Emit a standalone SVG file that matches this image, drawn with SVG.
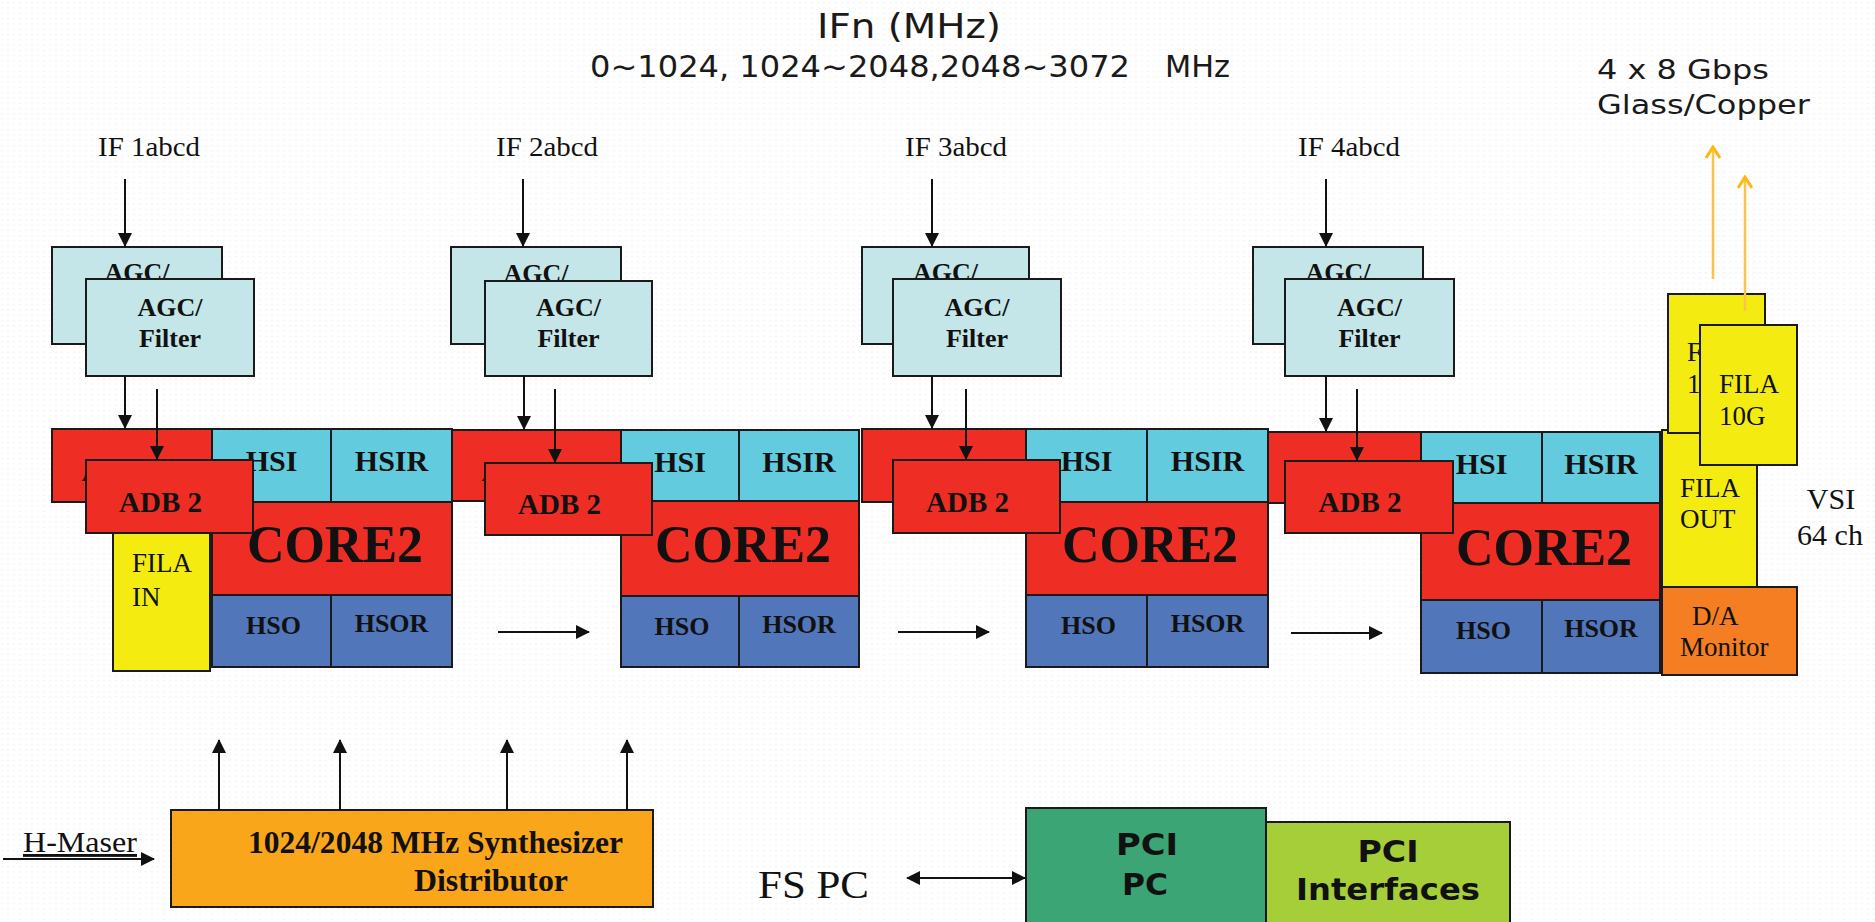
<svg xmlns="http://www.w3.org/2000/svg" width="1875" height="922" viewBox="0 0 1875 922">
<style>
.b{stroke:#1a1a1a;stroke-width:2}
.agc{fill:#C5E6E8}
.red{fill:#EE2E24}
.hsi{fill:#63CBDE}
.hso{fill:#5276BA}
.yel{fill:#F4EC11}
.da{fill:#F47E21}
.syn{fill:#FAA61A}
.pc{fill:#3CA576}
.pci{fill:#A6CE39}
.serif{font-family:"Liberation Serif","Times New Roman",serif;fill:#111}
.sb{font-family:"Liberation Serif","Times New Roman",serif;font-weight:bold;fill:#111}
.sans{font-family:"DejaVu Sans",Verdana,sans-serif;fill:#1a1a1a}
.sansb{font-family:"DejaVu Sans",Verdana,sans-serif;font-weight:bold;fill:#111}
.t26{font-size:26px}
.mid{text-anchor:middle}
.ln{stroke:#111;stroke-width:2;fill:none}
.or{stroke:#FCC34A;stroke-width:2.5;fill:none}
</style>
<defs>
<pattern id="dots" width="6" height="5.3" patternUnits="userSpaceOnUse">
<rect width="6" height="5.3" fill="#ffffff"/>
<path d="M1,3 l1,-1 l1,1" stroke="#E8E8E8" stroke-width="0.8" fill="none"/>
</pattern>
<marker id="ah" viewBox="0 0 14 14" refX="13" refY="7" markerWidth="14" markerHeight="14" orient="auto-start-reverse" markerUnits="userSpaceOnUse">
<path d="M0,0 L14,7 L0,14 z" fill="#111"/>
</marker>
<marker id="oh" viewBox="0 0 14 16" refX="12" refY="8" markerWidth="14" markerHeight="16" orient="auto" markerUnits="userSpaceOnUse">
<path d="M1,1 L12,8 L1,15" stroke="#FDB913" stroke-width="3" fill="none"/>
</marker>
</defs>
<rect width="1875" height="922" fill="url(#dots)"/>

<g id="title">
<text class="sans" x="817" y="38" font-size="34" textLength="184" lengthAdjust="spacingAndGlyphs">IFn (MHz)</text>
<text class="sans" x="590" y="77" font-size="31" textLength="540" lengthAdjust="spacingAndGlyphs">0~1024, 1024~2048,2048~3072</text>
<text class="sans" x="1165" y="77" font-size="31" textLength="65" lengthAdjust="spacingAndGlyphs">MHz</text>
</g>
<g id="gbps-label">
<text class="sans" x="1597" y="79" font-size="26" textLength="172" lengthAdjust="spacingAndGlyphs">4 x 8 Gbps</text>
<text class="sans" x="1597" y="114" font-size="26" textLength="213" lengthAdjust="spacingAndGlyphs">Glass/Copper</text>
</g>
<g id="if-labels">
<text class="serif" x="98" y="156" font-size="27" textLength="102" lengthAdjust="spacingAndGlyphs">IF 1abcd</text>
<text class="serif" x="496" y="156" font-size="27" textLength="102" lengthAdjust="spacingAndGlyphs">IF 2abcd</text>
<text class="serif" x="905" y="156" font-size="27" textLength="102" lengthAdjust="spacingAndGlyphs">IF 3abcd</text>
<text class="serif" x="1298" y="156" font-size="27" textLength="102" lengthAdjust="spacingAndGlyphs">IF 4abcd</text>
</g>

<!-- Column 1 -->
<g id="agc1-back"><rect class="agc b" x="52" y="247" width="170" height="97"/><text class="sb t26 mid" x="137" y="281">AGC/</text></g>
<g id="agc1"><rect class="agc b" x="86" y="279" width="168" height="97"/><text class="sb t26 mid" x="170" y="316">AGC/</text><text class="sb t26 mid" x="170" y="347">Filter</text></g>
<g id="adb1-back"><rect class="red b" x="52" y="429" width="160" height="73"/><text class="sb mid" x="123" y="481" font-size="29">ADB 2</text></g>
<g id="core1">
<rect class="hsi b" x="212" y="429" width="119" height="73"/><rect class="hsi b" x="331" y="429" width="121" height="73"/>
<rect class="red b" x="212" y="502" width="240" height="93"/>
<rect class="hso b" x="212" y="595" width="119" height="72"/><rect class="hso b" x="331" y="595" width="121" height="72"/>
<text class="sb mid" x="271.5" y="471" font-size="30">HSI</text><text class="sb mid" x="391.5" y="471" font-size="30">HSIR</text>
<text class="sb mid" x="335" y="562" font-size="52">CORE2</text>
<text class="sb mid" x="273.5" y="634" font-size="26">HSO</text><text class="sb mid" x="391.5" y="632" font-size="26">HSOR</text>
</g>
<g id="fila-in"><rect class="yel b" x="113" y="520" width="97" height="151"/><text class="serif" x="132" y="572" font-size="27">FILA</text><text class="serif" x="132" y="606" font-size="27">IN</text></g>
<g id="adb1"><rect class="red b" x="86" y="460" width="167" height="73"/><text class="sb mid" x="160.5" y="512" font-size="29">ADB 2</text></g>

<!-- Column 2 -->
<g id="agc2-back"><rect class="agc b" x="451" y="247" width="170" height="97"/><text class="sb t26 mid" x="536" y="282">AGC/</text></g>
<g id="agc2"><rect class="agc b" x="485" y="281" width="167" height="95"/><text class="sb t26 mid" x="568.5" y="316">AGC/</text><text class="sb t26 mid" x="568.5" y="347">Filter</text></g>
<g id="adb2-back"><rect class="red b" x="452" y="430" width="169" height="71"/><text class="sb mid" x="523" y="481" font-size="29">ADB 2</text></g>
<g id="core2">
<rect class="hsi b" x="621" y="430" width="118" height="71"/><rect class="hsi b" x="739" y="430" width="120" height="71"/>
<rect class="red b" x="621" y="501" width="238" height="95"/>
<rect class="hso b" x="621" y="596" width="118" height="71"/><rect class="hso b" x="739" y="596" width="120" height="71"/>
<text class="sb mid" x="680" y="472" font-size="30">HSI</text><text class="sb mid" x="799" y="472" font-size="30">HSIR</text>
<text class="sb mid" x="743" y="562" font-size="52">CORE2</text>
<text class="sb mid" x="682" y="635" font-size="26">HSO</text><text class="sb mid" x="799" y="633" font-size="26">HSOR</text>
</g>
<g id="adb2"><rect class="red b" x="485" y="463" width="167" height="72"/><text class="sb mid" x="559.5" y="514" font-size="29">ADB 2</text></g>

<!-- Column 3 -->
<g id="agc3-back"><rect class="agc b" x="862" y="247" width="167" height="97"/><text class="sb t26 mid" x="945.5" y="281">AGC/</text></g>
<g id="agc3"><rect class="agc b" x="893" y="279" width="168" height="97"/><text class="sb t26 mid" x="977" y="316">AGC/</text><text class="sb t26 mid" x="977" y="347">Filter</text></g>
<g id="adb3-back"><rect class="red b" x="862" y="429" width="164" height="73"/><text class="sb mid" x="933" y="481" font-size="29">ADB 2</text></g>
<g id="core3">
<rect class="hsi b" x="1026" y="429" width="121" height="73"/><rect class="hsi b" x="1147" y="429" width="121" height="73"/>
<rect class="red b" x="1026" y="502" width="242" height="93"/>
<rect class="hso b" x="1026" y="595" width="121" height="72"/><rect class="hso b" x="1147" y="595" width="121" height="72"/>
<text class="sb mid" x="1086.5" y="471" font-size="30">HSI</text><text class="sb mid" x="1207.5" y="471" font-size="30">HSIR</text>
<text class="sb mid" x="1150" y="562" font-size="52">CORE2</text>
<text class="sb mid" x="1088.5" y="634" font-size="26">HSO</text><text class="sb mid" x="1207.5" y="632" font-size="26">HSOR</text>
</g>
<g id="adb3"><rect class="red b" x="893" y="460" width="167" height="73"/><text class="sb mid" x="967.5" y="512" font-size="29">ADB 2</text></g>

<!-- Column 4 -->
<g id="agc4-back"><rect class="agc b" x="1253" y="247" width="170" height="97"/><text class="sb t26 mid" x="1338" y="281">AGC/</text></g>
<g id="agc4"><rect class="agc b" x="1285" y="279" width="169" height="97"/><text class="sb t26 mid" x="1369.5" y="316">AGC/</text><text class="sb t26 mid" x="1369.5" y="347">Filter</text></g>
<g id="adb4-back"><rect class="red b" x="1268" y="432" width="153" height="71"/><text class="sb mid" x="1339" y="483" font-size="29">ADB 2</text></g>
<g id="core4">
<rect class="hsi b" x="1421" y="432" width="121" height="71"/><rect class="hsi b" x="1542" y="432" width="118" height="71"/>
<rect class="red b" x="1421" y="503" width="239" height="97"/>
<rect class="hso b" x="1421" y="600" width="121" height="73"/><rect class="hso b" x="1542" y="600" width="118" height="73"/>
<text class="sb mid" x="1481.5" y="474" font-size="30">HSI</text><text class="sb mid" x="1601" y="474" font-size="30">HSIR</text>
<text class="sb mid" x="1544" y="565" font-size="52">CORE2</text>
<text class="sb mid" x="1483.5" y="639" font-size="26">HSO</text><text class="sb mid" x="1601" y="637" font-size="26">HSOR</text>
</g>
<g id="adb4"><rect class="red b" x="1285" y="461" width="168" height="72"/><text class="sb mid" x="1360" y="512" font-size="29">ADB 2</text></g>

<!-- Output side -->
<g id="fila-out"><rect class="yel b" x="1662" y="430" width="95" height="157"/><text class="serif" x="1680" y="497" font-size="27">FILA</text><text class="serif" x="1680" y="528" font-size="27">OUT</text></g>
<g id="da-monitor"><rect class="da b" x="1662" y="587" width="135" height="88"/><text class="serif" x="1692" y="625" font-size="27">D/A</text><text class="serif" x="1680" y="656" font-size="27">Monitor</text></g>
<g id="fila10g-back"><rect class="yel b" x="1668" y="294" width="97" height="139"/><text class="serif" x="1687" y="361" font-size="27">F</text><text class="serif" x="1687" y="393" font-size="27">1</text></g>
<g id="fila10g"><rect class="yel b" x="1700" y="325" width="97" height="140"/><text class="serif" x="1719" y="393" font-size="27">FILA</text><text class="serif" x="1719" y="425" font-size="27">10G</text></g>
<g id="vsi"><text class="serif mid" x="1831" y="509" font-size="30">VSI</text><text class="serif mid" x="1830" y="545" font-size="30">64 ch</text></g>

<!-- Bottom -->
<g id="h-maser"><text class="serif" x="23" y="852" font-size="29" textLength="114" lengthAdjust="spacingAndGlyphs" text-decoration="underline">H-Maser</text></g>
<g id="synth"><rect class="syn b" x="171" y="810" width="482" height="97"/>
<text class="sb" x="248" y="853" font-size="31" textLength="375" lengthAdjust="spacingAndGlyphs">1024/2048 MHz Synthesizer</text>
<text class="sb" x="414" y="891" font-size="31" textLength="154" lengthAdjust="spacingAndGlyphs">Distributor</text></g>
<g id="fs-pc"><text class="serif" x="758" y="898" font-size="40" textLength="111" lengthAdjust="spacingAndGlyphs">FS PC</text></g>
<g id="pci-pc"><rect class="pc b" x="1026" y="808" width="240" height="130"/>
<text class="sansb mid" x="1147" y="855" font-size="30" textLength="62" lengthAdjust="spacingAndGlyphs">PCI</text>
<text class="sansb mid" x="1145" y="895" font-size="30" textLength="46" lengthAdjust="spacingAndGlyphs">PC</text></g>
<g id="pci-interfaces"><rect class="pci b" x="1266" y="822" width="244" height="120"/>
<text class="sansb mid" x="1388" y="862" font-size="30" textLength="61" lengthAdjust="spacingAndGlyphs">PCI</text>
<text class="sansb mid" x="1388" y="900" font-size="31" textLength="184" lengthAdjust="spacingAndGlyphs">Interfaces</text></g>

<g id="connectors">
<line class="ln" x1="125" y1="179" x2="125" y2="246" marker-end="url(#ah)"/>
<line class="ln" x1="523" y1="179" x2="523" y2="246" marker-end="url(#ah)"/>
<line class="ln" x1="932" y1="179" x2="932" y2="246" marker-end="url(#ah)"/>
<line class="ln" x1="1326" y1="179" x2="1326" y2="246" marker-end="url(#ah)"/>
<line class="ln" x1="125" y1="376" x2="125" y2="428" marker-end="url(#ah)"/>
<line class="ln" x1="157" y1="389" x2="157" y2="459" marker-end="url(#ah)"/>
<line class="ln" x1="524" y1="376" x2="524" y2="429" marker-end="url(#ah)"/>
<line class="ln" x1="555" y1="389" x2="555" y2="462" marker-end="url(#ah)"/>
<line class="ln" x1="932" y1="376" x2="932" y2="428" marker-end="url(#ah)"/>
<line class="ln" x1="966" y1="389" x2="966" y2="459" marker-end="url(#ah)"/>
<line class="ln" x1="1326" y1="376" x2="1326" y2="431" marker-end="url(#ah)"/>
<line class="ln" x1="1357" y1="389" x2="1357" y2="460" marker-end="url(#ah)"/>
<line class="ln" x1="498" y1="632" x2="589" y2="632" marker-end="url(#ah)"/>
<line class="ln" x1="898" y1="632" x2="989" y2="632" marker-end="url(#ah)"/>
<line class="ln" x1="1291" y1="633" x2="1382" y2="633" marker-end="url(#ah)"/>
<line class="ln" x1="219" y1="810" x2="219" y2="740" marker-end="url(#ah)"/>
<line class="ln" x1="340" y1="810" x2="340" y2="740" marker-end="url(#ah)"/>
<line class="ln" x1="507" y1="810" x2="507" y2="740" marker-end="url(#ah)"/>
<line class="ln" x1="627" y1="810" x2="627" y2="740" marker-end="url(#ah)"/>
<line class="ln" x1="3" y1="859" x2="154" y2="859" marker-end="url(#ah)"/>
<line class="ln" x1="907" y1="878" x2="1025" y2="878" marker-start="url(#ah)" marker-end="url(#ah)"/>
<line class="or" x1="1713" y1="279" x2="1713" y2="147" marker-end="url(#oh)"/>
<line class="or" x1="1745" y1="311" x2="1745" y2="177" marker-end="url(#oh)"/>
</g>
</svg>
